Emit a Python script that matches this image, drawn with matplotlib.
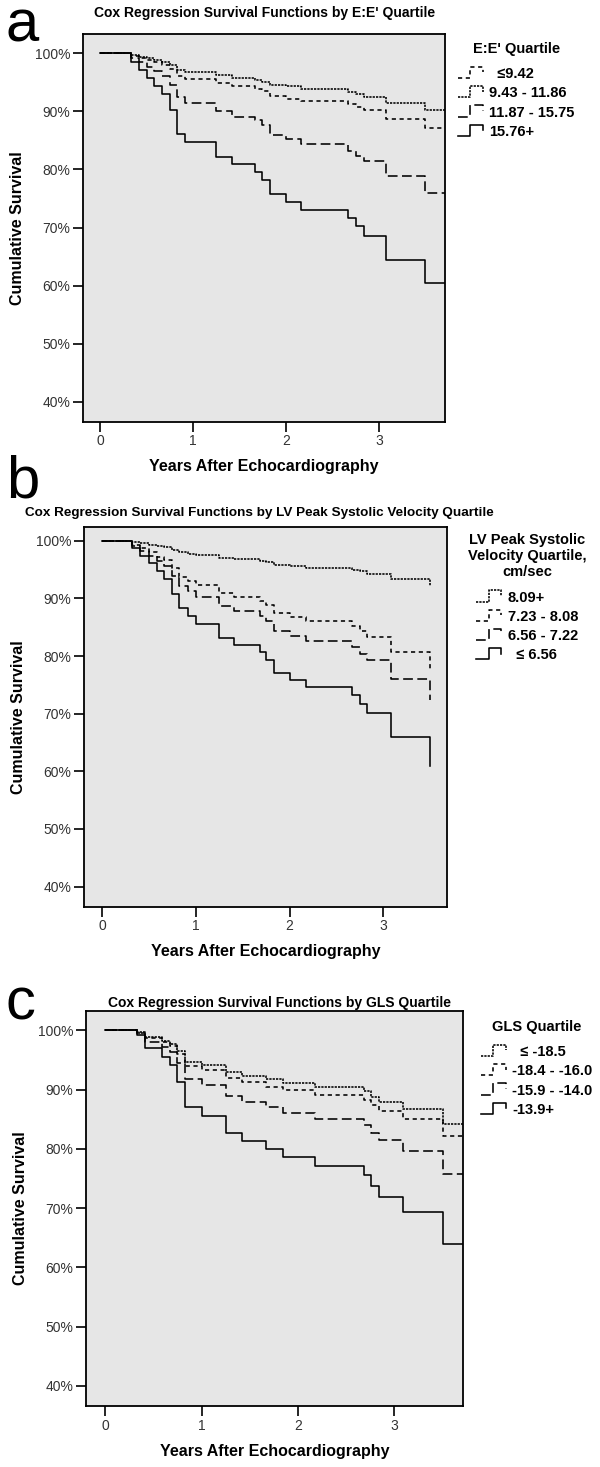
import matplotlib
matplotlib.use('Agg')
import matplotlib.pyplot as plt
from matplotlib.lines import Line2D
from matplotlib.legend_handler import HandlerBase

plt.rcParams['font.family'] = ['Liberation Sans', 'DejaVu Sans']
plt.rcParams['lines.scale_dashes'] = False

# ---------------- data ----------------
# Panel a: E:E' quartile
a_times = [0.33, 0.42, 0.50, 0.58, 0.66, 0.75, 0.83, 0.91, 1.25, 1.42, 1.66, 1.74,
           1.83, 2.00, 2.16, 2.67, 2.75, 2.84, 3.08, 3.50]
a_le_9_42 = [99.6, 99.2, 98.8, 98.4, 98.0, 97.2, 96.0, 95.6, 94.8, 94.4, 93.9, 93.5,
             92.7, 92.2, 91.7, 91.3, 90.8, 90.2, 88.7, 87.1]
a_9_43_11_86 = [99.7, 99.4, 99.1, 98.8, 98.5, 98.0, 97.1, 96.7, 96.2, 95.8, 95.4, 95.0,
                94.5, 94.3, 93.8, 93.3, 93.0, 92.5, 91.5, 90.2]
a_11_87_15_75 = [99.2, 98.5, 97.7, 97.0, 96.1, 94.5, 92.5, 91.5, 90.0, 89.1, 88.5, 87.7,
                 85.9, 85.2, 84.4, 83.2, 82.3, 81.5, 78.8, 76.0]
a_15_76_plus = [98.5, 97.1, 95.7, 94.3, 92.9, 90.2, 86.1, 84.8, 82.2, 80.9, 79.5, 78.2,
                75.7, 74.4, 73.0, 71.7, 70.3, 68.6, 64.4, 60.4]
a_labels = ["  \u22649.42", "9.43 - 11.86", "11.87 - 15.75", "15.76+"]
a_end = 3.71

# Panel b: LV peak systolic velocity quartile
b_times = [0.32, 0.40, 0.50, 0.58, 0.66, 0.74, 0.82, 0.91, 1.00, 1.25, 1.41, 1.68, 1.75,
           1.83, 2.00, 2.17, 2.67, 2.75, 2.83, 3.08, 3.50]
b_8_09_plus = [99.8, 99.6, 99.35, 99.1, 98.9, 98.4, 98.0, 97.7, 97.5, 97.0, 96.8, 96.5, 96.3,
               95.8, 95.6, 95.3, 95.0, 94.7, 94.3, 93.4, 92.2]
b_7_23_8_08 = [99.3, 98.7, 98.0, 97.2, 96.6, 95.2, 93.8, 93.1, 92.3, 91.0, 90.3, 89.6, 88.8,
               87.5, 86.8, 86.0, 85.2, 84.3, 83.3, 80.7, 77.6]
b_6_56_7_22 = [99.1, 98.3, 97.4, 96.5, 95.6, 93.9, 92.2, 91.3, 90.3, 88.7, 87.8, 86.9, 86.0,
               84.4, 83.4, 82.6, 81.5, 80.4, 79.3, 76.1, 72.4]
b_le_6_56 = [98.7, 97.4, 96.1, 94.7, 93.4, 90.8, 88.3, 87.0, 85.6, 83.2, 82.0, 80.7, 79.4,
             77.1, 75.8, 74.6, 73.2, 71.7, 70.1, 65.9, 61.0]
b_labels = ["8.09+", "7.23 - 8.08", "6.56 - 7.22", "  \u2264 6.56"]
b_end = 3.50

# Panel c: GLS quartile
c_times = [0.335, 0.415, 0.59, 0.67, 0.75, 0.83, 1.00, 1.25, 1.42, 1.67, 1.84, 2.18,
           2.68, 2.76, 2.84, 3.09, 3.50]
c_le_m18_5 = [99.7, 98.8, 98.2, 97.7, 96.5, 94.7, 94.1, 92.9, 92.3, 91.7, 91.1, 90.4,
              89.7, 88.8, 87.9, 86.7, 84.1]
c_m18_4_m16_0 = [99.6, 98.7, 98.0, 97.3, 96.0, 94.0, 93.3, 91.9, 91.2, 90.5, 89.9, 89.1,
                 88.3, 87.4, 86.3, 85.0, 82.1]
c_m15_9_m14_0 = [99.5, 98.1, 97.2, 96.3, 94.4, 91.7, 90.7, 88.9, 87.9, 87.0, 86.1, 85.1,
                 84.0, 82.7, 81.4, 79.6, 75.8]
c_m13_9_plus = [99.2, 97.0, 95.5, 94.1, 91.2, 87.0, 85.5, 82.7, 81.3, 79.9, 78.6, 77.1,
                75.5, 73.7, 71.8, 69.3, 64.0]
c_labels = ["  \u2264 -18.5", "-18.4 - -16.0", "-15.9 - -14.0", "-13.9+"]
c_end = 3.71

y_ticks = [40, 50, 60, 70, 80, 90, 100]
y_ticklabels = ["40%", "50%", "60%", "70%", "80%", "90%", "100%"]
x_ticks = [0, 1, 2, 3]

# ---------------- styles ----------------
DENSE = (0, (1.6, 0.8))
SPARSE = (0, (3.0, 2.6))
LONG = (0, (7.0, 3.2))
SOLID = '-'
LW = 1.15
BG = '#e6e6e6'

W, H = 600, 1467
fig = plt.figure(figsize=(W / 100, H / 100), dpi=100)


class StepHandler(HandlerBase):
    def create_artists(self, legend, orig_handle, xdescent, ydescent,
                       width, height, fontsize, trans):
        x0, y0 = -xdescent, -ydescent
        xs = [x0, x0 + 0.42 * width, x0 + 0.42 * width, x0 + 0.85 * width, x0 + 0.85 * width]
        ys = [y0, y0, y0 + 1.1 * height, y0 + 1.1 * height, y0 + 0.55 * height]
        ln = Line2D(xs, ys, color='black', linewidth=LW,
                    linestyle=orig_handle._ls_spec)
        ln.set_transform(trans)
        ln.set_clip_on(False)
        return [ln]


def make_axes(left, top, right, bottom):
    return fig.add_axes([left / W, 1 - bottom / H, (right - left) / W, (bottom - top) / H])


def curve(ax, times, vals, end, ls):
    t = [0.0] + list(times)
    s = [100.0] + list(vals)
    if end > t[-1]:
        t.append(end)
        s.append(s[-1])
    ln, = ax.plot(t, s, drawstyle='steps-post', color='black', linestyle=ls, linewidth=LW)
    ln._ls_spec = ls
    return ln


def style_axes(ax, xlim, ylim):
    ax.set_facecolor(BG)
    ax.set_xlim(*xlim)
    ax.set_ylim(*ylim)
    ax.set_yticks(y_ticks)
    ax.set_yticklabels(y_ticklabels)
    ax.set_xticks(x_ticks)
    for sp in ax.spines.values():
        sp.set_linewidth(1.3)
        sp.set_color('black')
    ax.tick_params(direction='out', length=7, width=1.2, labelsize=10,
                   labelcolor='#333333', pad=2)
    ax.set_ylabel('Cumulative Survival', fontsize=11.5, fontweight='bold', labelpad=7)
    ax.set_xlabel('Years After Echocardiography', fontsize=11.5, fontweight='bold', labelpad=8)


def add_legend(ax, handles, labels, title, x_px, y_px):
    leg = ax.legend(handles, labels, handler_map={Line2D: StepHandler()},
                    loc='upper left', bbox_to_anchor=(x_px / W, 1 - y_px / H),
                    bbox_transform=fig.transFigure, frameon=False, title=title,
                    prop=dict(weight='bold', size=10.5),
                    title_fontproperties=dict(weight='bold', size=10.5),
                    handlelength=2.0, handleheight=0.7, handletextpad=0.15,
                    labelspacing=0.36, borderpad=0, borderaxespad=0)
    leg.get_title().set_multialignment('center')
    leg._legend_box.sep = 8
    return leg


def panel_title(text, cx, cy, size=10):
    fig.text(cx / W, 1 - cy / H, text, ha='center', va='center',
             fontsize=size, fontweight='bold')


def panel_letter(text, x, y):
    fig.text(x / W, 1 - y / H, text, ha='left', va='baseline', fontsize=43)


# ---------------- panel a ----------------
axa = make_axes(82.7, 34, 445, 421.7)
la1 = curve(axa, a_times, a_le_9_42, a_end, SPARSE)
la2 = curve(axa, a_times, a_9_43_11_86, a_end, DENSE)
la3 = curve(axa, a_times, a_11_87_15_75, a_end, LONG)
la4 = curve(axa, a_times, a_15_76_plus, a_end, SOLID)
style_axes(axa, (-0.19, 3.71), (36.6, 103.3))
add_legend(axa, [la1, la2, la3, la4], a_labels, "E:E' Quartile", 458, 42)
panel_title("Cox Regression Survival Functions by E:E' Quartile", 265, 13)
panel_letter('a', 6, 41)

# ---------------- panel b ----------------
axb = make_axes(84, 527, 447, 906.7)
lb1 = curve(axb, b_times, b_8_09_plus, b_end, DENSE)
lb2 = curve(axb, b_times, b_7_23_8_08, b_end, SPARSE)
lb3 = curve(axb, b_times, b_6_56_7_22, b_end, LONG)
lb4 = curve(axb, b_times, b_le_6_56, b_end, SOLID)
style_axes(axb, (-0.195, 3.68), (36.5, 102.4))
add_legend(axb, [lb1, lb2, lb3, lb4], b_labels,
           "LV Peak Systolic\nVelocity Quartile,\ncm/sec", 468, 533)
panel_title("Cox Regression Survival Functions by LV Peak Systolic Velocity Quartile",
            259, 513, size=9.7)
panel_letter('b', 6, 498)

# ---------------- panel c ----------------
axc = make_axes(86, 1010.7, 463, 1406)
lc1 = curve(axc, c_times, c_le_m18_5, c_end, DENSE)
lc2 = curve(axc, c_times, c_m18_4_m16_0, c_end, SPARSE)
lc3 = curve(axc, c_times, c_m15_9_m14_0, c_end, LONG)
lc4 = curve(axc, c_times, c_m13_9_plus, c_end, SOLID)
style_axes(axc, (-0.197, 3.71), (36.6, 103.3))
add_legend(axc, [lc1, lc2, lc3, lc4], c_labels, "GLS Quartile", 481, 1020)
panel_title("Cox Regression Survival Functions by GLS Quartile", 279, 1003)
panel_letter('c', 6, 1019)

fig.savefig('out.png', dpi=100, facecolor='white')
